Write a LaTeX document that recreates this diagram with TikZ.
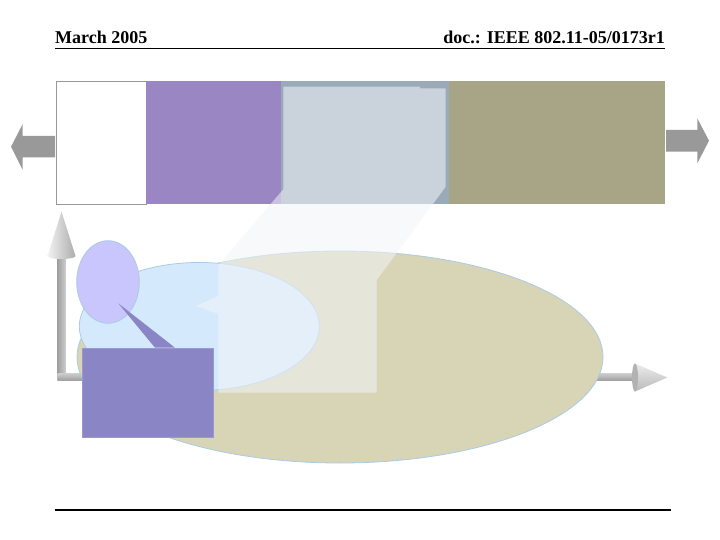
\documentclass[tikz,border=0pt]{standalone}
\usepackage{fontspec}
\setmainfont{Liberation Serif}
\usetikzlibrary{shapes.geometric,positioning}
\definecolor{framegray}{HTML}{999999}
\definecolor{barpurple}{HTML}{9986C3}
\definecolor{barsteel}{HTML}{9AAAB9}
\definecolor{barolive}{HTML}{A8A586}
\definecolor{fieldtan}{HTML}{D8D4B6}
\definecolor{edgeblue}{HTML}{A9CBE6}
\definecolor{poolblue}{HTML}{D4EAFC}
\definecolor{lavender}{HTML}{C8C6FC}
\definecolor{boxpurple}{HTML}{8A85C5}
\definecolor{beamgray}{RGB}{242,244,247}
\tikzset{
  cell/.style={rectangle,inner sep=0pt,outer sep=0pt,minimum height=123pt},
  blob/.style={ellipse,inner sep=0pt,draw=edgeblue,line width=0.8pt},
  hdr/.style={font=\bfseries\fontsize{18}{20}\selectfont,inner sep=0pt}
}
\begin{document}
\begin{tikzpicture}[x=1pt,y=-1pt]
	\useasboundingbox (0,0) rectangle (720,540);
	% header and footer
	\node[hdr,anchor=base west] (date) at (55,44) {March 2005};
	\node[hdr,anchor=base east] (docid) at (665,44) {doc.: IEEE 802.11-05/0173r1};
	\draw[line width=1.2pt] (55,48.5) -- (665,48.5);
	\draw[line width=1.2pt] (55,510) -- (671,510);
	% axes
	\coordinate (origin) at (61.5,377);
	\coordinate (ytip) at (61.5,211.7);
	\coordinate (xtip) at (667.3,377.5);
	\shade[left color=gray!75,right color=gray!40] (57.5,380.5) rectangle (65.5,256);
	\shade[top color=gray!40,bottom color=gray!75] (57.5,373.5) rectangle (636,380.5);
	\shade[left color=gray!10,right color=gray!65] (47.5,256) -- (ytip) -- (75.5,256) arc[start angle=0,end angle=180,x radius=14,y radius=3] -- cycle;
	\shade[top color=gray!15,bottom color=gray!55] (635,363.5) -- (xtip) -- (635,391.5) -- cycle;
	\fill[gray!60] (635,377.5) ellipse[x radius=3,y radius=14];
	% ellipses and callout
	\node[blob,fill=fieldtan,minimum width=526pt,minimum height=212pt] (field) at (340,357) {};
	\node[blob,fill=poolblue,minimum width=240pt,minimum height=128pt] (pool) at (199.3,326.5) {};
	\node[blob,fill=lavender,minimum width=62.6pt,minimum height=82.6pt] (node) at (108,282) {};
	\node[rectangle,inner sep=0pt,fill=boxpurple,draw=boxpurple!85!white,minimum width=131pt,minimum height=89.6pt] (databox) at (147.2,392.5) {};
	\coordinate (ptip) at (118.3,303.3);
	\coordinate (pbase1) at (155,347.7);
	\coordinate (pbase2) at (175,347.7);
	\fill[boxpurple] (ptip) -- (pbase2) -- (pbase1) -- cycle;
	% bar
	\node[cell,minimum width=90pt,fill=white,draw=framegray] (blank) at (101,142.5) {};
	\node[cell,minimum width=135pt,fill=barpurple,right=0pt of blank] (violet) {};
	\node[cell,minimum width=168pt,fill=barsteel,right=0pt of violet] (steel) {};
	\node[cell,minimum width=216pt,fill=barolive,right=0pt of steel] (olive) {};
	% zoom beam
	\fill[beamgray,opacity=0.55] (283.3,86.7) -- (420,86.7) -- (420,88.3) -- (445.5,88.3) -- (445.5,187)
		-- (376.7,280) -- (376.7,392.7) -- (218.3,392.7) -- (218.3,314) -- (196,306) -- (218.3,296)
		-- (218.3,265) -- (283.3,189.3) -- cycle;
	% side arrows
	\fill[framegray] (55,136) -- (22.7,136) -- (22.7,124) -- (11,146.7) -- (22.7,170) -- (22.7,157.3) -- (55,157.3) -- cycle;
	\fill[framegray] (666,130) -- (697.3,130) -- (697.3,118.3) -- (709,140.7) -- (697.3,163.3) -- (697.3,151.7) -- (666,151.7) -- cycle;
\end{tikzpicture}
\end{document}
